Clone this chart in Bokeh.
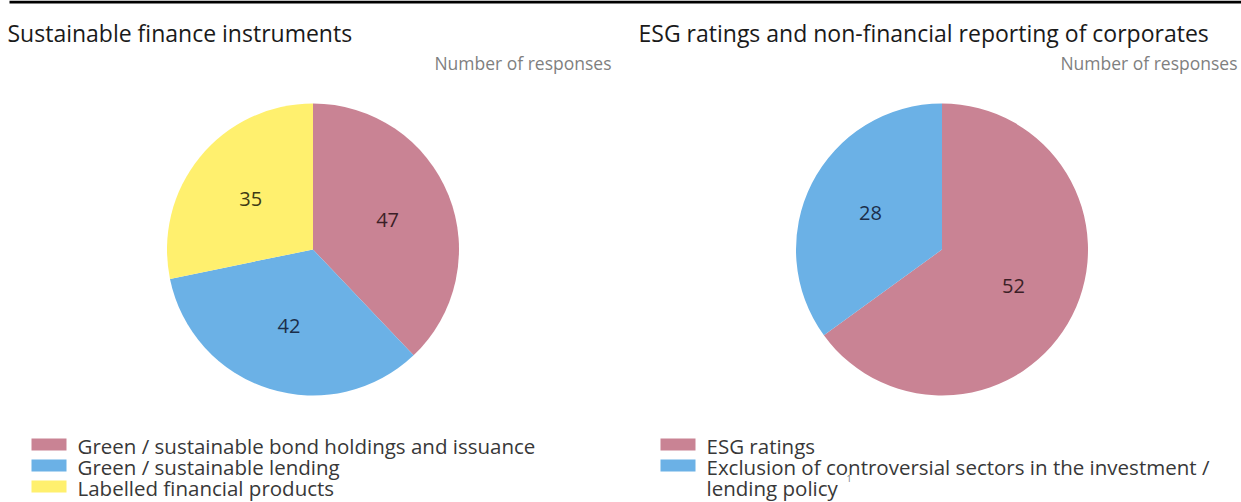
import numpy as np
from bokeh.plotting import figure
from bokeh.models import ColumnDataSource, Range1d
from bokeh.core.properties import value
from bokeh.embed import file_html
from bokeh.resources import INLINE

# ---- data ----
left_title = "Sustainable finance instruments"
left_categories = ["Green / sustainable bond holdings and issuance",
                   "Green / sustainable lending",
                   "Labelled financial products"]
left_values = [47, 42, 35]
left_colors = ["#c98394", "#6bb1e6", "#fff06e"]
left_label_colors = ["#3b1f27", "#1b2e4a", "#3d3a14"]

right_title = "ESG ratings and non-financial reporting of corporates"
right_categories = ["ESG ratings",
                    "Exclusion of controversial sectors in the investment /"]
right_values = [52, 28]
right_colors = ["#c98394", "#6bb1e6"]
right_label_colors = ["#3b1f27", "#1b2e4a"]
right_cont = "lending policy"
footnote = "1"
unit_label = "Number of responses"

W, H = 1241, 502
FONT = value("Open Sans")


def Y(sy):
    # screen row -> data y
    return H - sy


p = figure(width=W, height=H, x_range=Range1d(0, W), y_range=Range1d(0, H),
           x_axis_type=None, y_axis_type=None, toolbar_location=None,
           output_backend="svg", min_border=0)
p.grid.visible = False
p.outline_line_color = None
p.background_fill_color = "white"
p.border_fill_color = "white"

# top rule
p.rect(x=[(9 + W) / 2], y=[Y(1.5)], width=[W - 9], height=[3], fill_color="black", line_color=None)


def pie(cx, cy, R, vals, colors, lcolors):
    vals = np.array(vals, dtype=float)
    tot = vals.sum()
    cum = np.concatenate([[0], np.cumsum(vals)])
    start = np.radians(90 - cum[:-1] / tot * 360)
    end = np.radians(90 - cum[1:] / tot * 360)
    mid = (start + end) / 2
    src = ColumnDataSource(dict(start=start, end=end, color=colors))
    p.wedge(x=cx, y=cy, radius=R, start_angle="start", end_angle="end",
            direction="clock", fill_color="color", line_color=None, source=src)
    r = 0.55 * R
    lsrc = ColumnDataSource(dict(x=cx + r * np.cos(mid), y=cy + r * np.sin(mid),
                                 t=[str(int(v)) for v in vals], c=lcolors))
    p.text(x="x", y="y", text="t", text_color="c", source=lsrc,
           text_align="center", text_baseline="middle",
           text_font=FONT, text_font_size="20px")


pie(312.5, Y(249), 146, left_values, left_colors, left_label_colors)
pie(941.5, Y(249), 146, right_values, right_colors, right_label_colors)

# titles
p.text(x=[7, 638], y=[Y(32), Y(32)], text=[left_title, right_title], text_font=FONT,
       text_font_size="23px", text_color="#1a1a1a", text_baseline="middle")
p.text(x=[611, 1237], y=[Y(62), Y(62)], text=[unit_label, unit_label], text_font=FONT,
       text_font_size="17.5px", text_color="#7f7f7f", text_baseline="middle",
       text_align="right")

# legends
sq_rows = [Y(444), Y(465), Y(486)]
txt_rows = [Y(445), Y(466), Y(487)]


def legend(x0, cats, colors):
    n = len(cats)
    p.rect(x=[x0 + 17.5] * n, y=sq_rows[:n], width=35, height=12,
           fill_color=colors, line_color=None)
    p.text(x=[x0 + 46] * n, y=txt_rows[:n], text=cats, text_font=FONT,
           text_font_size="20.5px", text_color="#383838", text_baseline="middle")


legend(31, left_categories, left_colors)
legend(660, right_categories, right_colors)
p.text(x=[706], y=[txt_rows[2]], text=[right_cont], text_font=FONT, text_font_size="20.5px",
       text_color="#383838", text_baseline="middle")
p.text(x=[846], y=[Y(478)], text=[footnote], text_font=FONT, text_font_size="9px",
       text_color="#777777", text_baseline="middle")

open("out.html", "w").write(file_html(p, INLINE))
